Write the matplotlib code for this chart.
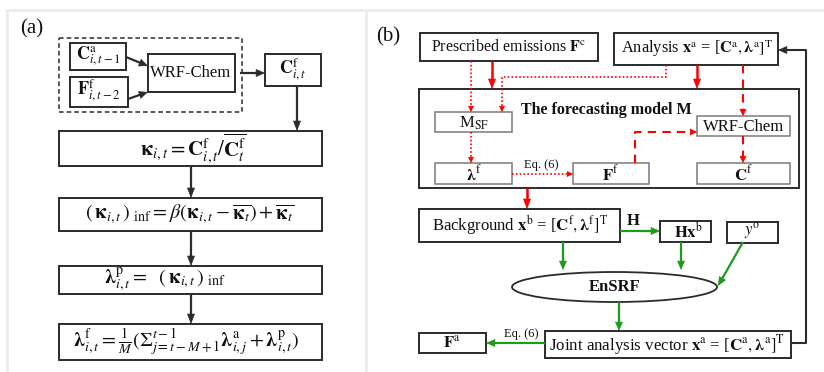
import matplotlib.pyplot as plt
from matplotlib.patches import Rectangle, Ellipse, FancyArrowPatch

plt.rcParams['font.family'] = ['Liberation Serif', 'DejaVu Serif']
plt.rcParams['mathtext.fontset'] = 'stix'

# Labels for the two schematics
panel_tags = ["(a)", "(b)"]

inflation_inputs = [r"$\mathbf{C}^{\mathrm{a}}_{i,t-1}$", r"$\mathbf{F}^{\mathrm{f}}_{i,t-2}$"]
inflation_model = "WRF-Chem"
inflation_output = r"$\mathbf{C}^{\mathrm{f}}_{i,t}$"
inflation_steps = [
    r"$\mathbf{\kappa}_{i,t} = \mathbf{C}^{\mathrm{f}}_{i,t}/\overline{\mathbf{C}^{\mathrm{f}}_{t}}$",
    r"$(\,\mathbf{\kappa}_{i,t}\,)_{\ \mathrm{inf}} = \beta\left(\mathbf{\kappa}_{i,t} - \overline{\mathbf{\kappa}_t}\right) + \overline{\mathbf{\kappa}_t}$",
    r"$\mathbf{\lambda}^{\mathrm{p}}_{i,t} =\ \ (\,\mathbf{\kappa}_{i,t}\,)_{\ \mathrm{inf}}$",
    r"$\mathbf{\lambda}^{\mathrm{f}}_{i,t} = \frac{1}{M}(\Sigma_{j=t-M+1}^{t-1}\mathbf{\lambda}^{\mathrm{a}}_{i,j} + \mathbf{\lambda}^{\mathrm{p}}_{i,t})$",
]

cycle_inputs = [r"Prescribed emissions $\mathbf{F}^{\mathrm{c}}$",
                r"Analysis $\mathbf{x}^{\mathrm{a}}$ = [$\mathbf{C}^{\mathrm{a}}, \mathbf{\lambda}^{\mathrm{a}}]^{\mathrm{T}}$"]
model_title = "The forecasting model M"
model_parts = [r"M$_{\mathrm{SF}}$", "WRF-Chem", r"$\mathbf{\lambda}^{\mathrm{f}}$",
               r"$\mathbf{F}^{\mathrm{f}}$", r"$\mathbf{C}^{\mathrm{f}}$"]
eq_ref = "Eq. (6)"
background = r"Background $\mathbf{x}^{\mathrm{b}}$ = [$\mathbf{C}^{\mathrm{f}}, \mathbf{\lambda}^{\mathrm{f}}]^{\mathrm{T}}$"
obs_op = "H"
obs_parts = [r"$\mathbf{Hx}^{\mathrm{b}}$", r"$\mathit{y}^{\mathrm{o}}$"]
filter_name = "EnSRF"
joint_analysis = r"Joint analysis vector $\mathbf{x}^{\mathrm{a}}$ = [$\mathbf{C}^{\mathrm{a}}, \mathbf{\lambda}^{\mathrm{a}}]^{\mathrm{T}}$"
emis_analysis = r"$\mathbf{F}^{\mathrm{a}}$"

RED = '#ff0000'
GREEN = '#1f9a1f'
DARK = '#2b2b2b'
GRAY = '#7a7a7a'

fig = plt.figure(figsize=(8.24, 3.72), dpi=100)
ax = fig.add_axes([0, 0, 1, 1])
ax.set_xlim(0, 824)
ax.set_ylim(372, 0)
ax.axis('off')


def box(x0, y0, x1, y1, ec=DARK, lw=1.4, ls='-'):
    ax.add_patch(Rectangle((x0, y0), x1 - x0, y1 - y0, fill=False,
                           ec=ec, lw=lw, ls=ls))


def arrow(pts, color=DARK, ls='-', lw=1.5, hl=9, hw=7):
    # shaft as a polyline, head as a short solid arrow on the last segment
    (xa, ya), (xb, yb) = pts[-2], pts[-1]
    d = ((xb - xa) ** 2 + (yb - ya) ** 2) ** 0.5
    ux, uy = (xb - xa) / d, (yb - ya) / d
    xs = [p[0] for p in pts[:-1]] + [xb - ux * hl * 0.8]
    ys = [p[1] for p in pts[:-1]] + [yb - uy * hl * 0.8]
    ax.plot(xs, ys, color=color, ls=ls, lw=lw, solid_capstyle='butt')
    style = f'-|>,head_length={hl * 0.72:.2f},head_width={hw * 0.36:.2f}'
    ax.add_patch(FancyArrowPatch((xb - ux * hl * 1.05, yb - uy * hl * 1.05), (xb, yb),
                                 arrowstyle=style, mutation_scale=1, color=color,
                                 lw=0.5, shrinkA=0, shrinkB=0))


def label(x, y, s, size=12, **kw):
    ax.text(x, y, s, ha=kw.pop('ha', 'center'), va='center', fontsize=size,
            color='#111111', **kw)


# panel frames
ax.plot([7, 824], [10, 10], color='#ececec', lw=2)
ax.plot([7, 7], [10, 372], color='#ececec', lw=2)
ax.plot([366, 366], [10, 372], color='#ececec', lw=2)

label(32, 29, panel_tags[0], size=15)
label(388, 37, panel_tags[1], size=15)

# ---- (a) inflation of emission scaling factors ----
box(59, 38, 242, 112, lw=1.1, ls=(0, (3, 2)))
box(70, 43, 126, 70)
box(70, 77, 128, 107)
box(148, 54, 235, 92)
box(265, 54, 321, 86)
label(98, 56, inflation_inputs[0], size=13)
label(99, 91, inflation_inputs[1], size=13)
label(191, 73, inflation_model, size=12)
label(293, 70, inflation_output, size=13)
arrow([(126, 57), (148, 66)], lw=1.6, hl=8, hw=7)
arrow([(128, 99), (148, 92)], lw=1.6, hl=8, hw=7)
arrow([(240, 73), (265, 73)], lw=1.6, hl=8, hw=7)
arrow([(297, 86), (297, 131)], lw=1.6, hl=9, hw=7)

step_boxes = [(131, 166), (198, 231), (266, 294), (324, 360)]
step_cx = [193, 190, 165, 186]
step_size = [15, 14.5, 14.5, 14.5]
for (y0, y1), cx, fs, s in zip(step_boxes, step_cx, step_size, inflation_steps):
    box(59, y0, 322, y1)
    label(cx, (y0 + y1) / 2, s, size=fs)
for (ya, yb) in zip([b[1] for b in step_boxes[:-1]], [b[0] for b in step_boxes[1:]]):
    arrow([(191, ya), (191, yb)], lw=1.6, hl=9, hw=7)

# ---- (b) assimilation cycle ----
box(420, 33, 598, 61)
box(614, 33, 778, 65)
label(509, 47, cycle_inputs[0], size=11.5)
label(697, 49, cycle_inputs[1], size=11.8)

box(419, 89, 799, 188)
label(606, 110, model_title, size=11.5, fontweight='bold')
inner = [(435, 112, 512, 132), (697, 116, 790, 136), (435, 163, 512, 184),
         (573, 163, 649, 184), (697, 163, 790, 184)]
for (x0, y0, x1, y1), s in zip(inner, model_parts):
    box(x0, y0, x1, y1, ec=GRAY, lw=1.1)
    label((x0 + x1) / 2, (y0 + y1) / 2 + 1, s, size=12)

dot = (0, (1, 1.3))
dash = (0, (4, 3))
arrow([(492, 61), (492, 89)], color=RED, lw=1.8, hl=9, hw=7)
arrow([(697, 65), (697, 89)], color=RED, lw=1.8, hl=9, hw=7)
arrow([(471, 61), (471, 112)], color=RED, ls=dot, lw=1.2, hl=5, hw=5)
arrow([(666, 65), (666, 77), (502, 77), (502, 112)], color=RED, ls=dot, lw=1.2, hl=5, hw=5)
arrow([(471, 132), (471, 163)], color=RED, ls=dot, lw=1.2, hl=5, hw=5)
arrow([(512, 174), (573, 174)], color=RED, ls=dot, lw=1.2, hl=5, hw=5)
label(541, 165, eq_ref, size=9)
arrow([(743, 65), (743, 116)], color=RED, ls=dash, lw=1.5, hl=6, hw=6)
arrow([(635, 163), (635, 132), (697, 132)], color=RED, ls=dash, lw=1.5, hl=6, hw=6)
arrow([(743, 136), (743, 163)], color=RED, ls=dash, lw=1.5, hl=6, hw=6)
arrow([(527, 188), (527, 209)], color=RED, lw=1.8, hl=9, hw=7)

box(419, 209, 620, 242)
label(520, 225, background, size=12)
label(633, 221, obs_op, size=12, fontweight='bold')
box(660, 221, 711, 242)
box(727, 222, 778, 243)
label(688, 232, obs_parts[0], size=12)
label(752, 231, obs_parts[1], size=12)
arrow([(620, 231), (660, 231)], color=GREEN, lw=1.6, hl=8, hw=7)

ax.add_patch(Ellipse((614.5, 287), 205, 30, fill=False, ec=DARK, lw=1.3))
label(614.5, 287, filter_name, size=12, fontweight='bold')
arrow([(563, 242), (563, 270)], color=GREEN, lw=1.6, hl=8, hw=7)
arrow([(681, 242), (681, 270)], color=GREEN, lw=1.6, hl=8, hw=7)
arrow([(743, 242), (718, 286)], color=GREEN, lw=1.6, hl=8, hw=7)
arrow([(619, 302), (619, 331)], color=GREEN, lw=1.6, hl=8, hw=7)

box(545, 331, 791, 358)
box(419, 333, 486, 353)
label(667, 345, joint_analysis, size=12.2)
label(452, 343, emis_analysis, size=12)
arrow([(545, 343), (486, 343)], color=GREEN, lw=1.6, hl=8, hw=7)
label(521, 334, eq_ref, size=9)

arrow([(791, 343), (806, 343), (806, 50), (778, 50)], color=DARK, lw=1.5, hl=8, hw=7)

fig.savefig('out.png', dpi=100)
